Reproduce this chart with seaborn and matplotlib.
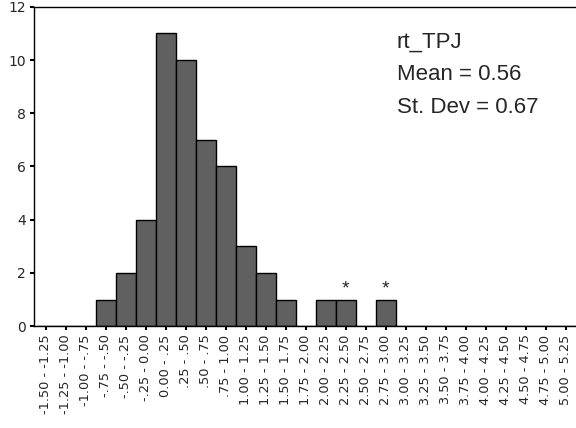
import matplotlib
matplotlib.use('Agg')
import matplotlib.pyplot as plt
import seaborn as sns
import pandas as pd

# Histogram data (bin labels and counts)
bin_labels = ['-1.50 - -1.25', '-1.25 - -1.00', '-1.00 - -.75', '-.75 - -.50',
              '-.50 - -.25', '-.25 - 0.00', '0.00 - .25', '.25 - .50',
              '.50 - .75', '.75 - 1.00', '1.00 - 1.25', '1.25 - 1.50',
              '1.50 - 1.75', '1.75 - 2.00', '2.00 - 2.25', '2.25 - 2.50',
              '2.50 - 2.75', '2.75 - 3.00', '3.00 - 3.25', '3.25 - 3.50',
              '3.50 - 3.75', '3.75 - 4.00', '4.00 - 4.25', '4.25 - 4.50',
              '4.50 - 4.75', '4.75 - 5.00', '5.00 - 5.25']
counts = [0, 0, 0, 1, 2, 4, 11, 10, 7, 6, 3, 2, 1, 0, 1, 1, 0, 1,
          0, 0, 0, 0, 0, 0, 0, 0, 0]
outlier_bins = ['2.25 - 2.50', '2.75 - 3.00']
stats_lines = ['rt_TPJ', 'Mean = 0.56', 'St. Dev = 0.67']

sns.set_style('ticks')
plt.rcParams['font.family'] = ['DejaVu Sans']

df = pd.DataFrame({'bin': bin_labels, 'count': counts})

fig = plt.figure(figsize=(5.76, 4.28), dpi=100)
ax = fig.add_axes([0.059, 0.238, 0.941, 0.746])

sns.barplot(data=df, x='bin', y='count', order=bin_labels, color='#606060',
            saturation=1, width=1.0, edgecolor='black', linewidth=1, ax=ax)

# asterisks over outlier bins
for b in outlier_bins:
    i = bin_labels.index(b)
    ax.annotate('*', (i, counts[i]), xytext=(0, 1.5), textcoords='offset points',
                ha='center', va='bottom', fontsize=14, family='Liberation Sans')

ax.set_xlim(-0.58, 26.52)
ax.set_ylim(0, 12)
ax.set_yticks(range(0, 13, 2))
ax.set_xlabel('')
ax.set_ylabel('')
ax.tick_params(axis='x', labelrotation=90, labelsize=9.3, length=3, width=1.5,
               pad=3, color='black')
ax.tick_params(axis='y', labelsize=10, length=3, width=1.5, pad=3, color='black')
for lab in ax.get_xticklabels():
    lab.set_verticalalignment('top')

for side in ['left', 'top', 'bottom']:
    ax.spines[side].set_visible(True)
    ax.spines[side].set_color('black')
    ax.spines[side].set_linewidth(1)
ax.spines['right'].set_visible(False)

# stats block
ys = [0.888, 0.813, 0.736]
for txt, y in zip(stats_lines, ys):
    fig.text(0.689, y, txt, fontsize=16, family='Liberation Sans',
             ha='left', va='baseline')

fig.savefig('out.png', dpi=100)
